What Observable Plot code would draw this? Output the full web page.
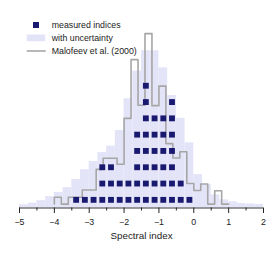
<!DOCTYPE html>
<html><head><meta charset="utf-8">
<script src="https://cdn.jsdelivr.net/npm/d3@7"></script>
<script src="https://cdn.jsdelivr.net/npm/@observablehq/plot@0.6"></script>
<style>
body{margin:0;background:#fff;font-family:"Liberation Sans",Arial,sans-serif}
#wrap{position:relative;width:280px;height:257px}
#legend{position:absolute;left:0;top:0;pointer-events:none}
</style>
</head><body><div id="wrap"></div>
<script>
// measured indices: bin centres (width 0.25) and counts
const measuredCenters = [-3.375,-3.125,-2.875,-2.625,-2.375,-2.125,-1.875,-1.625,-1.375,-1.125,-0.875,-0.625,-0.375,-0.125];
const measuredCounts  = [1,1,1,3,3,2,2,5,8,6,6,7,2,1];

// with uncertainty: bin starts (width 0.25) and heights
const uncertStarts = [-5,-4.75,-4.5,-4.25,-4,-3.75,-3.5,-3.25,-3,-2.75,-2.5,-2.25,-2,-1.75,-1.5,-1.25,-1,-0.75,-0.5,-0.25,0,0.25,0.5,0.75,1,1.25,1.5,1.75];
const uncertHeights = [0.2,0.3,0.45,0.7,0.95,1.25,1.75,2.35,2.85,3.4,3.8,4.75,6.7,8.4,9.65,9.65,8.6,6.9,5.5,4.0,2.05,1.45,0.8,0.5,0.38,0.28,0.25,0.22];
const uncertWidth = 0.25;

// Malofeev et al. (2000): bin starts (width 0.2) and heights
const malofeevStarts = [-4,-3.8,-3.6,-3.4,-3.2,-3,-2.8,-2.6,-2.4,-2.2,-2,-1.8,-1.6,-1.4,-1.2,-1,-0.8,-0.6,-0.4,-0.2,0,0.2,0.4,0.6,0.8];
const malofeevHeights = [0.66,0.24,0.66,0.66,1.1,1.1,2.37,3.05,3.05,2.68,5.5,9.1,6.3,10.7,6.28,7.48,3.95,3.07,3.45,1.5,1.07,1.47,0.24,1.06,0.24];
const malofeevEnd = 1.0;
const malofeevBase = 0.24;

const xTicks = [-5,-4,-3,-2,-1,0,1,2];
const xMinorTicks = [-4.5,-3.5,-2.5,-1.5,-0.5,0.5,1.5];
const xLabel = "Spectral index";
const legendLabels = ["measured indices","with uncertainty","Malofeev et al. (2000)"];

const squareColor = "#191970";
const fillColor = "#e4e4f8";
const lineColor = "#a6a6a6";

// derived tables
const squares = [];
measuredCenters.forEach((c, k) => {
  for (let i = 0; i < measuredCounts[k]; i++) squares.push({x: c, y: i + 0.5});
});
const uncert = uncertStarts.map((s, i) => ({x1: s, x2: s + uncertWidth, y: uncertHeights[i]}));
const malo = [{x: malofeevStarts[0], y: malofeevBase}];
malofeevStarts.forEach((s, i) => malo.push({x: s, y: malofeevHeights[i]}));
malo.push({x: malofeevEnd, y: malofeevHeights[malofeevHeights.length - 1]});

const fmt = d => (d < 0 ? "\u2212" + Math.abs(d) : String(d));

const plot = Plot.plot({
  width: 280, height: 257,
  marginLeft: 19, marginRight: 17, marginTop: 0, marginBottom: 49.5,
  style: {fontFamily: '"Liberation Sans", Arial, sans-serif', fontSize: "8.8px", color: "#222", background: "#fff"},
  x: {domain: [-5, 2]},
  y: {domain: [0, 207.5 / 16.3], axis: null},
  marks: [
    Plot.rectY(uncert, {x1: "x1", x2: "x2", y: "y", fill: fillColor, inset: 0}),
    Plot.line(malo, {x: "x", y: "y", curve: "step-after", stroke: lineColor, strokeWidth: 1.6}),
    Plot.dot(squares, {x: "x", y: "y", symbol: "square", r: 3.3, fill: squareColor, stroke: "none"}),
    Plot.ruleY([0], {stroke: "#222", strokeWidth: 0.9}),
    Plot.axisX({ticks: xTicks, tickFormat: fmt, tickSize: 5.5, tickPadding: 5.4, label: null, stroke: "#222", fill: "#222"}),
    Plot.axisX({ticks: xMinorTicks, tickFormat: () => "", tickSize: 3, label: null, stroke: "#222"}),
    Plot.text([xLabel], {frameAnchor: "bottom", dy: 28.2, lineAnchor: "middle", fontSize: 9.8, fill: "#222"})
  ]
});
const wrap = document.getElementById("wrap");
wrap.appendChild(plot);

// legend overlay
const ns = "http://www.w3.org/2000/svg";
const leg = document.createElementNS(ns, "svg");
leg.setAttribute("id", "legend");
leg.setAttribute("width", 280);
leg.setAttribute("height", 70);
const lg = d3.select(leg);
lg.append("rect").attr("x", 33).attr("y", 22).attr("width", 6).attr("height", 6).attr("fill", squareColor);
lg.append("rect").attr("x", 26.7).attr("y", 34.5).attr("width", 18.5).attr("height", 6.8).attr("fill", fillColor);
lg.append("line").attr("x1", 26.7).attr("x2", 45.7).attr("y1", 51).attr("y2", 51).attr("stroke", lineColor).attr("stroke-width", 1.6);
[25, 37.8, 51].forEach((cy, i) => {
  lg.append("text").attr("x", 51.7).attr("y", cy).attr("dy", "0.35em")
    .attr("font-size", 8.8).attr("fill", "#222")
    .attr("font-family", '"Liberation Sans", Arial, sans-serif')
    .text(legendLabels[i]);
});
wrap.appendChild(leg);
</script>
</body></html>
